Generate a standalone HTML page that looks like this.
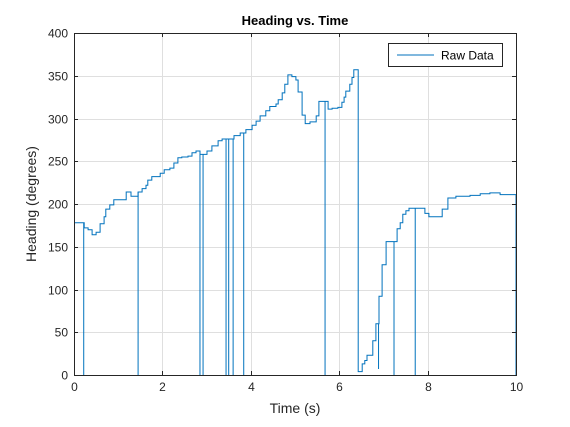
<!DOCTYPE html>
<html><head><meta charset="utf-8"><style>
body{margin:0;background:#fff;width:570px;height:422px;overflow:hidden}
svg text{font-family:"Liberation Sans",sans-serif}
</style></head><body>
<svg id="chart" width="570" height="422">
<rect x="0" y="0" width="570" height="422" fill="#fff"/>
<g id="grid"></g>
<g id="series"></g>
<g id="axes"></g>
<text x="295" y="25" text-anchor="middle" font-size="13" font-weight="bold" fill="#000">Heading vs. Time</text>
<text x="295" y="413" text-anchor="middle" font-size="14" fill="#262626">Time (s)</text>
<text transform="translate(36,204) rotate(-90)" text-anchor="middle" font-size="14" fill="#262626">Heading (degrees)</text>
<g>
<rect x="388.5" y="43.5" width="114" height="23" fill="#fff" stroke="#262626" stroke-width="1"/>
<line x1="397" y1="55" x2="434" y2="55" stroke="#0072BD" stroke-width="1"/>
<text x="441" y="59.5" font-size="12" fill="#000">Raw Data</text>
</g>
</svg>
<script>
const times = [
0,0.23,0.32,0.41,0.50,0.59,0.68,0.72,0.81,0.90,
1.18,1.29,1.45,1.54,1.63,1.67,1.76,1.95,2.04,2.17,
2.26,2.35,2.44,2.58,2.67,2.76,2.85,3.01,3.12,3.26,
3.35,3.62,3.76,3.89,4.03,4.12,4.21,4.34,4.43,4.57,
4.62,4.71,4.77,4.84,4.93,5.02,5.07,5.16,5.23,5.34,
5.48,5.54,5.75,5.84,5.97,6.06,6.11,6.15,6.24,6.29,
6.33,6.43,6.52,6.58,6.63,6.76,6.83,6.90,6.97,7.06,
7.31,7.38,7.44,7.51,7.58,7.94,8.03,8.33,8.46,8.64,
8.96,9.19,9.41,9.64,10.0];
const headings = [
178,172,170,164,167,177,185,194,199,205,
214,209,214,218,222,228,232,236,240,242,
248,254,255,256,260,262,258,262,268,274,
276,280,283,287,292,297,303,309,314,317,
322,330,340,351,349,345,331,304,294,296,
303,320,311,312,313,319,325,332,340,348,
357,4,13,17,23,40,60,92,129,156,
171,178,188,192,195,189,185,194,207,209,
210,212,213,211,211];
const spikeTimes = [0.22,1.45,2.85,2.92,3.44,3.50,3.60,3.84,5.68,7.24,7.72,10.0];
const thinSpikeTimes = [6.89];
const thinSpikeValues = [7];
const xTicks = [0,2,4,6,8,10];
const yTicks = [0,50,100,150,200,250,300,350,400];

const X0=74,X1=516,Y0=375,Y1=33;
const xs=t=>X0+(t-0)/(10-0)*(X1-X0);
const ys=v=>Y0-(v-0)/(400-0)*(Y0-Y1);
const NS="http://www.w3.org/2000/svg";
function mk(tag,attrs,parent){const e=document.createElementNS(NS,tag);for(const k in attrs)e.setAttribute(k,attrs[k]);parent.appendChild(e);return e;}
const grid=document.getElementById('grid'),axes=document.getElementById('axes'),series=document.getElementById('series');

xTicks.forEach(t=>{
  const x=Math.round(xs(t))+0.5;
  const g=mk('line',{x1:x,y1:Y1,x2:x,y2:Y0,stroke:'#dfdfdf','stroke-width':1},grid);
  
  
  mk('line',{x1:x,y1:Y0,x2:x,y2:Y0-4,stroke:'#262626'},axes);
  mk('line',{x1:x,y1:Y1,x2:x,y2:Y1+4,stroke:'#262626'},axes);
  const tx=mk('text',{x:x,y:Y0+16,'text-anchor':'middle','font-size':12,fill:'#262626'},axes);
  tx.textContent=t;
  
  
});
yTicks.forEach(v=>{
  const y=Math.round(ys(v))+0.5;
  const g=mk('line',{x1:X0,y1:y,x2:X1,y2:y,stroke:'#dfdfdf','stroke-width':1},grid);
  
  
  mk('line',{x1:X0,y1:y,x2:X0+4,y2:y,stroke:'#262626'},axes);
  mk('line',{x1:X1,y1:y,x2:X1-4,y2:y,stroke:'#262626'},axes);
  const tx=mk('text',{x:X0-6,y:y+4,'text-anchor':'end','font-size':12,fill:'#262626'},axes);
  tx.textContent=v;
  
  
});
mk('rect',{x:X0+0.5,y:Y1+0.5,width:X1-X0,height:Y0-Y1,fill:'none',stroke:'#262626','stroke-width':1},axes);

function valAt(t){let v=headings[0];for(let i=0;i<times.length;i++){if(times[i]<=t)v=headings[i];}return v;}
let d='M'+xs(times[0]).toFixed(1)+','+ys(headings[0]).toFixed(1);
for(let i=1;i<times.length;i++){
  d+=' H'+xs(times[i]).toFixed(1)+' V'+ys(headings[i]).toFixed(1);
}
const p=mk('path',{d:d,fill:'none',stroke:'#0072BD','stroke-width':1},series);


spikeTimes.forEach(t=>{
  const x=xs(t);
  const l=mk('line',{x1:x,y1:ys(valAt(t)),x2:x,y2:ys(0),stroke:'#0072BD','stroke-width':1},series);
  
  
});
thinSpikeTimes.forEach((t,i)=>{
  const x=xs(t);
  const l=mk('line',{x1:x,y1:ys(valAt(t)),x2:x,y2:ys(thinSpikeValues[i]),stroke:'#0072BD','stroke-width':1},series);
  
  
});
</script>
</body></html>
